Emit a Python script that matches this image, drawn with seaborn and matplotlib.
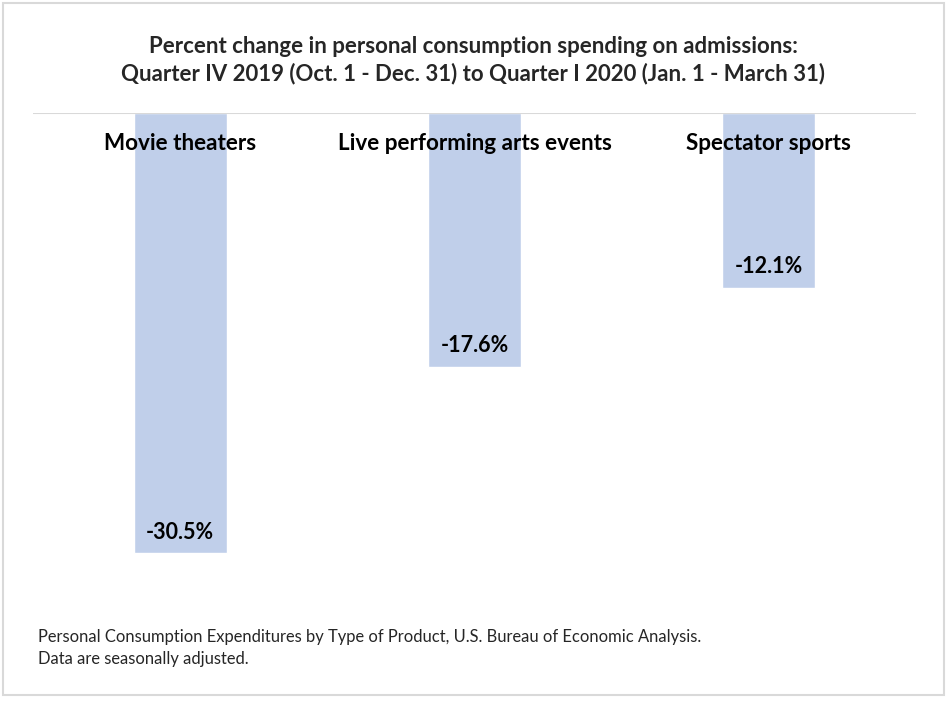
import matplotlib
matplotlib.use("Agg")
import matplotlib.pyplot as plt
import seaborn as sns
import pandas as pd
from matplotlib.patches import Rectangle

# Chart data
categories = ["Movie theaters", "Live performing arts events", "Spectator sports"]
pct_change = [-30.5, -17.6, -12.1]
value_labels = ["-30.5%", "-17.6%", "-12.1%"]

TITLE = ("Percent change in personal consumption spending on admissions:\n"
         "Quarter IV 2019 (Oct. 1 - Dec. 31) to Quarter I 2020 (Jan. 1 - March 31)")
FOOTNOTE = ("Personal Consumption Expenditures by Type of Product, U.S. Bureau of Economic Analysis.\n"
            "Data are seasonally adjusted.")

BAR_COLOUR = "#C0CFEA"
LINE_COLOUR = "#D9D9D9"
FONT = ["Lato", "DejaVu Sans"]

sns.set_theme(style="white")
plt.rcParams["font.family"] = FONT

df = pd.DataFrame({"category": categories, "pct": pct_change})

fig = plt.figure(figsize=(9.49, 7.03), dpi=100)
ax = fig.add_axes([0.0348, 0.1414, 0.9304, 0.6979])

sns.barplot(data=df, x="category", y="pct", color=BAR_COLOUR, saturation=1,
            width=0.316, ax=ax)

ax.set_xlim(-0.5, 2.5)
ax.set_ylim(-34, 0)
ax.axhline(0, color=LINE_COLOUR, lw=1.5, zorder=3)
for side in ax.spines.values():
    side.set_visible(False)
ax.set_xticks([])
ax.set_yticks([])
ax.set_xlabel("")
ax.set_ylabel("")

# category names just under the zero line
for i, name in enumerate(categories):
    ax.annotate(name, xy=(i, 0), xytext=(0, -31), textcoords="offset pixels",
                ha="center", va="center", fontsize=16.2, fontweight="bold",
                color="black", zorder=4)

# value labels inside the bar ends
for i, (val, lab) in enumerate(zip(pct_change, value_labels)):
    ax.annotate(lab, xy=(i, val), xytext=(0, 21), textcoords="offset pixels",
                ha="center", va="center", fontsize=15.5, fontweight="bold",
                color="black", zorder=4)

fig.text(0.4985, 0.914, TITLE, ha="center", va="center", fontsize=16,
         fontweight="bold", linespacing=1.33)
fig.text(0.040, 0.078, FOOTNOTE, ha="left", va="center", fontsize=11.9,
         linespacing=1.45)

# light frame around the whole chart
fig.patches.append(Rectangle((0.003, 0.012), 0.992, 0.984, transform=fig.transFigure,
                             fill=False, edgecolor=LINE_COLOUR, lw=1.5))

fig.savefig("out.png", dpi=100, facecolor="white")
